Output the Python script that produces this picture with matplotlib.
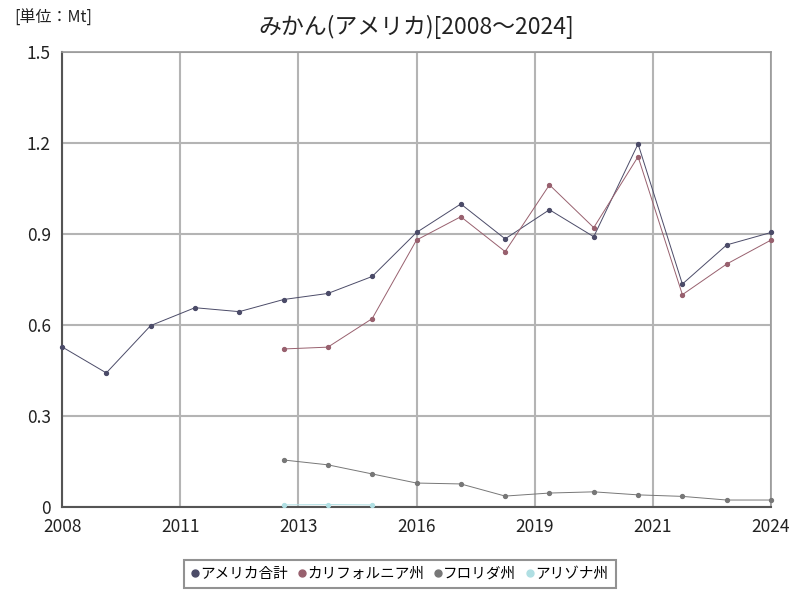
import numpy as np
import matplotlib as mpl
import matplotlib.pyplot as plt

mpl.use("Agg")
plt.rcParams["font.family"] = ["Noto Sans CJK JP", "DejaVu Sans"]

years_total = list(range(2008, 2025))
total = [0.528, 0.442, 0.598, 0.657, 0.644, 0.684, 0.704, 0.760, 0.905,
         0.999, 0.884, 0.980, 0.891, 1.197, 0.735, 0.864, 0.905]

years_state = list(range(2013, 2025))
california = [0.521, 0.527, 0.621, 0.880, 0.957, 0.842, 1.062, 0.921,
              1.155, 0.700, 0.801, 0.880]
florida = [0.155, 0.139, 0.109, 0.079, 0.076, 0.036, 0.046, 0.050,
           0.040, 0.035, 0.023, 0.023]

years_arizona = [2013, 2014, 2015]
arizona = [0.007, 0.008, 0.007]

series = [
    ("アメリカ合計", years_total, total, "#4b4b68"),
    ("カリフォルニア州", years_state, california, "#98606e"),
    ("フロリダ州", years_state, florida, "#777777"),
    ("アリゾナ州", years_arizona, arizona, "#b0dfe3"),
]

xticks = np.linspace(2008, 2024, 7)
xlabels = ["2008", "2011", "2013", "2016", "2019", "2021", "2024"]
yticks = [0, 0.3, 0.6, 0.9, 1.2, 1.5]
ylabels = ["0", "0.3", "0.6", "0.9", "1.2", "1.5"]

fig = plt.figure(figsize=(8, 6), dpi=100)
ax = fig.add_axes([62 / 800, 93 / 600, 709 / 800, 455 / 600])

for name, xs, ys, color in series:
    ax.plot(xs, ys, color=color, lw=0.7, marker="o", ms=2.8,
            label=name, clip_on=False, zorder=3)

ax.set_xlim(2008, 2024)
ax.set_ylim(0, 1.5)
ax.set_xticks(xticks)
ax.set_xticklabels(xlabels)
ax.set_yticks(yticks)
ax.set_yticklabels(ylabels)
ax.tick_params(length=0, labelsize=12.5, pad=8, colors="#222222")
ax.grid(True, color="#b4b4b4", lw=1.5)
ax.set_axisbelow(True)
for side in ["top", "right"]:
    ax.spines[side].set_color("#999999")
    ax.spines[side].set_linewidth(1.2)
for side in ["left", "bottom"]:
    ax.spines[side].set_color("#555555")
    ax.spines[side].set_linewidth(1.5)

fig.text(416 / 800, 1 - 27 / 600, "みかん(アメリカ)[2008～2024]",
         ha="center", va="center", fontsize=16.5, color="#222222")
fig.text(14 / 800, 1 - 18 / 600, "[単位：Mt]", ha="left", va="center",
         fontsize=11.5, color="#222222")

leg = ax.legend(loc="center", bbox_to_anchor=(400 / 800, 1 - 574 / 600),
                bbox_transform=fig.transFigure, ncol=4, frameon=True,
                fancybox=False, edgecolor="#777777", fontsize=10.5,
                handlelength=0.5, handletextpad=0.1, columnspacing=0.7,
                borderpad=0.5, borderaxespad=0)
for h in leg.legend_handles:
    h.set_linestyle("none")
    h.set_markersize(5)
leg.get_frame().set_linewidth(1.5)

fig.savefig("out.png", dpi=100)
